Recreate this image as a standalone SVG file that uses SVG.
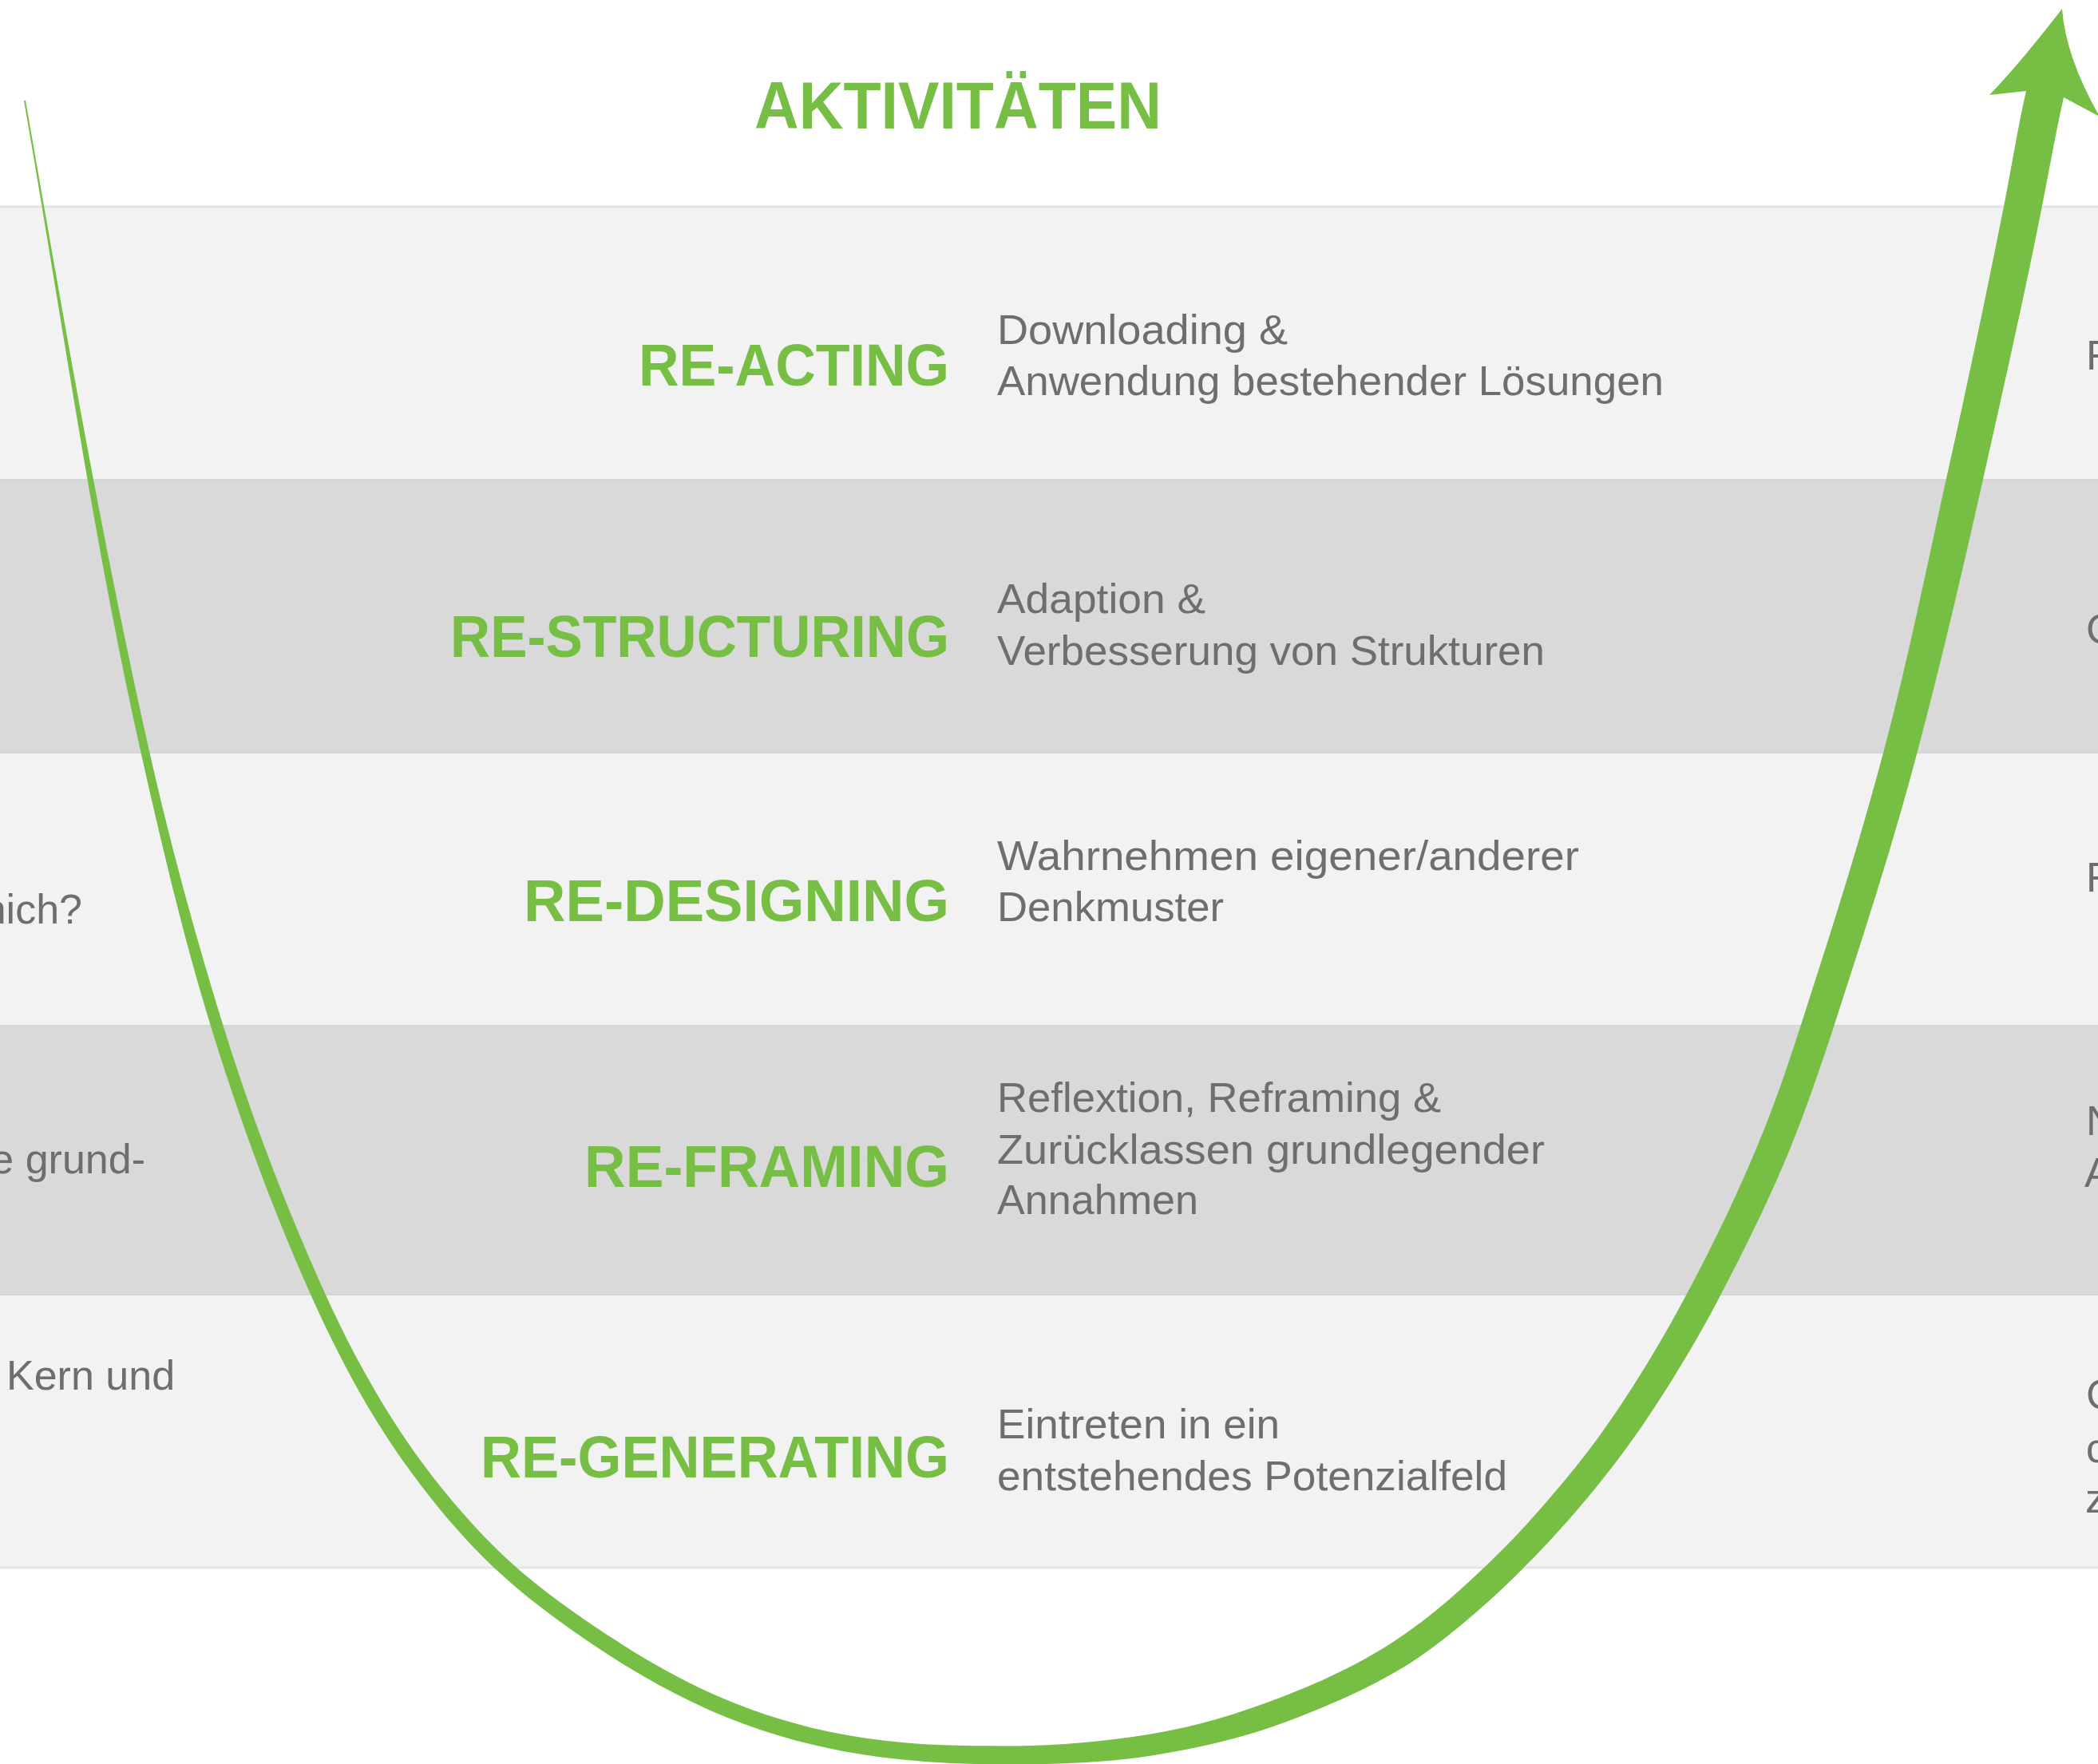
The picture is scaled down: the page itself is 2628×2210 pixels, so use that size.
<svg xmlns="http://www.w3.org/2000/svg" width="2628" height="2210" viewBox="0 0 2628 2210">
<style>
.bg{fill:#ffffff}
.light{fill:#f2f2f2}
.dark{fill:#d9d9d9}
.sep{stroke:#d6d6d6;stroke-width:2}
.sepl{stroke:#e4e4e4;stroke-width:3}
.title{font-family:"Liberation Sans",Arial,sans-serif;font-weight:bold;font-size:84px;fill:#76bf44}
.lbl{font-family:"Liberation Sans",Arial,sans-serif;font-weight:bold;font-size:75px;fill:#76bf44;text-anchor:end}
.desc{font-family:"Liberation Sans",Arial,sans-serif;font-size:52px;fill:#6d6e71}
.side{font-family:"Liberation Sans",Arial,sans-serif;font-size:52px;fill:#6d6e71}
.curve{fill:#76bf44}
</style>
<rect class="bg" x="0" y="0" width="2628" height="2210"/>
<g id="title">
<text class="title" x="945" y="161" textLength="510" lengthAdjust="spacingAndGlyphs">AKTIVITÄTEN</text>
</g>
<g id="row-reacting">
<rect class="light" x="0" y="259" width="2628" height="342"/>
<text class="lbl" x="1189" y="483" textLength="389" lengthAdjust="spacingAndGlyphs">RE-ACTING</text>
<text class="desc" x="1249" y="431" textLength="364" lengthAdjust="spacingAndGlyphs">Downloading &amp;</text>
<text class="desc" x="1249" y="495" textLength="835" lengthAdjust="spacingAndGlyphs">Anwendung bestehender Lösungen</text>
<text class="side" x="2613" y="463">F</text>
</g>
<g id="row-restructuring">
<rect class="dark" x="0" y="601" width="2628" height="342"/>
<text class="lbl" x="1189" y="823" textLength="625" lengthAdjust="spacingAndGlyphs">RE-STRUCTURING</text>
<text class="desc" x="1249" y="768" textLength="261" lengthAdjust="spacingAndGlyphs">Adaption &amp;</text>
<text class="desc" x="1249" y="833" textLength="686" lengthAdjust="spacingAndGlyphs">Verbesserung von Strukturen</text>
<text class="side" x="2613" y="806">C</text>
</g>
<g id="row-redesigning">
<rect class="light" x="0" y="943" width="2628" height="342"/>
<text class="lbl" x="1189" y="1154" textLength="533" lengthAdjust="spacingAndGlyphs">RE-DESIGNING</text>
<text class="desc" x="1249" y="1090" textLength="729" lengthAdjust="spacingAndGlyphs">Wahrnehmen eigener/anderer</text>
<text class="desc" x="1249" y="1154" textLength="284" lengthAdjust="spacingAndGlyphs">Denkmuster</text>
<text class="side" x="103" y="1157" text-anchor="end">nich?</text>
<text class="side" x="2613" y="1117">F</text>
</g>
<g id="row-reframing">
<rect class="dark" x="0" y="1285" width="2628" height="337"/>
<text class="lbl" x="1189" y="1487" textLength="457" lengthAdjust="spacingAndGlyphs">RE-FRAMING</text>
<text class="desc" x="1249" y="1393" textLength="556" lengthAdjust="spacingAndGlyphs">Reflextion, Reframing &amp;</text>
<text class="desc" x="1249" y="1458" textLength="686" lengthAdjust="spacingAndGlyphs">Zurücklassen grundlegender</text>
<text class="desc" x="1249" y="1521" textLength="252" lengthAdjust="spacingAndGlyphs">Annahmen</text>
<text class="side" x="182" y="1470" text-anchor="end">e grund-</text>
<text class="side" x="2613" y="1422">N</text>
<text class="side" x="2611" y="1487">A</text>
</g>
<g id="row-regenerating">
<rect class="light" x="0" y="1622" width="2628" height="342"/>
<text class="lbl" x="1189" y="1851" textLength="587" lengthAdjust="spacingAndGlyphs">RE-GENERATING</text>
<text class="desc" x="1249" y="1802" textLength="354" lengthAdjust="spacingAndGlyphs">Eintreten in ein</text>
<text class="desc" x="1249" y="1867" textLength="639" lengthAdjust="spacingAndGlyphs">entstehendes Potenzialfeld</text>
<text class="side" x="8" y="1741">Kern und</text>
<text class="side" x="2613" y="1765">C</text>
<text class="side" x="2613" y="1832">c</text>
<text class="side" x="2612" y="1895">z</text>
</g>
<g id="separators">
<line class="sepl" x1="0" y1="259" x2="2628" y2="259"/>
<line class="sep" x1="0" y1="601" x2="2628" y2="601"/>
<line class="sep" x1="0" y1="943" x2="2628" y2="943"/>
<line class="sep" x1="0" y1="1285" x2="2628" y2="1285"/>
<line class="sep" x1="0" y1="1622" x2="2628" y2="1622"/>
<line class="sepl" x1="0" y1="1964" x2="2628" y2="1964"/>
</g>
<g id="connectors">
<path class="curve" d="M30,126.2 C77.6,399 116,674.1 176.8,944.2 C202.8,1059.5 229.9,1175.3 264.8,1288.2 C300.1,1402.2 341.4,1515.7 390.3,1624.5 C418.1,1686.4 450.1,1748.3 487.5,1805 C518.5,1851.9 554.4,1897.8 593.1,1938.5 C642.3,1990.4 702.6,2034.5 762.6,2073.4 C815.6,2107.8 874.2,2138.8 933.6,2160.4 C987.7,2180.1 1046.6,2194.4 1103.7,2201.4 C1154.4,2207.7 1206.9,2210.5 1258,2210.5 C1319.5,2210.5 1383.4,2209 1444.1,2199.3 C1501.4,2190.3 1561.4,2176.3 1615.6,2155.5 C1674.3,2132.9 1737.1,2105.7 1788,2068.8 C1826,2041.1 1863.6,2008.4 1897.2,1975.5 C1933.5,1940 1969.1,1900.8 2001,1861.3 C2026.8,1829.4 2052.2,1794.5 2074.5,1760.1 C2101.5,1718.6 2127.7,1674.6 2150.8,1630.9 C2183.5,1568.9 2215.6,1504.3 2242.1,1439.4 C2271,1368.5 2294.5,1294 2318,1221.2 C2347,1131.4 2375.6,1040.4 2399.8,949.3 C2430.1,835.4 2457.3,719.9 2483,604.9 C2508.4,491.2 2534.4,376.9 2557.1,262.6 C2566.5,215.1 2575,166.9 2585,122 L2630,146 Q2587.5,71.5 2583,11 Q2530.5,79 2492,119 L2538,114 C2527.8,158.4 2520.4,205.9 2511,253.4 C2488.3,367.8 2464.5,481.3 2439,595.1 C2413.4,710.1 2390.5,824.9 2360.2,938.7 C2336,1029.8 2309,1119.1 2280,1208.9 C2256.4,1281.7 2234.9,1353.8 2205.9,1424.6 C2179.5,1489.5 2149.9,1551.2 2117.2,1613.1 C2094.1,1656.9 2070.4,1698.4 2043.5,1739.9 C2021.1,1774.4 1998.9,1806.8 1973,1838.7 C1941.1,1878.1 1909,1915 1872.8,1950.5 C1839.2,1983.4 1806.1,2013.6 1768,2041.3 C1717.1,2078.2 1663.2,2104 1604.4,2126.5 C1550.3,2147.3 1497.2,2163.6 1439.9,2172.7 C1379.2,2182.3 1319.5,2187.5 1258,2187.5 C1206.9,2187.5 1157,2186.8 1106.3,2180.6 C1049.1,2173.6 994.5,2161.3 940.4,2141.6 C881,2120 826.5,2091 773.5,2056.6 C713.5,2017.7 656.1,1977.3 606.9,1925.5 C568.2,1884.7 533.5,1842 502.5,1795.1 C465.2,1738.4 433.6,1679.4 405.8,1617.5 C356.9,1508.7 314.4,1397.8 279.2,1283.8 C244.2,1170.9 213.2,1057.1 187.2,941.8 C126.3,671.7 79.6,398.6 32,125.8 Z"/>
</g>
</svg>
